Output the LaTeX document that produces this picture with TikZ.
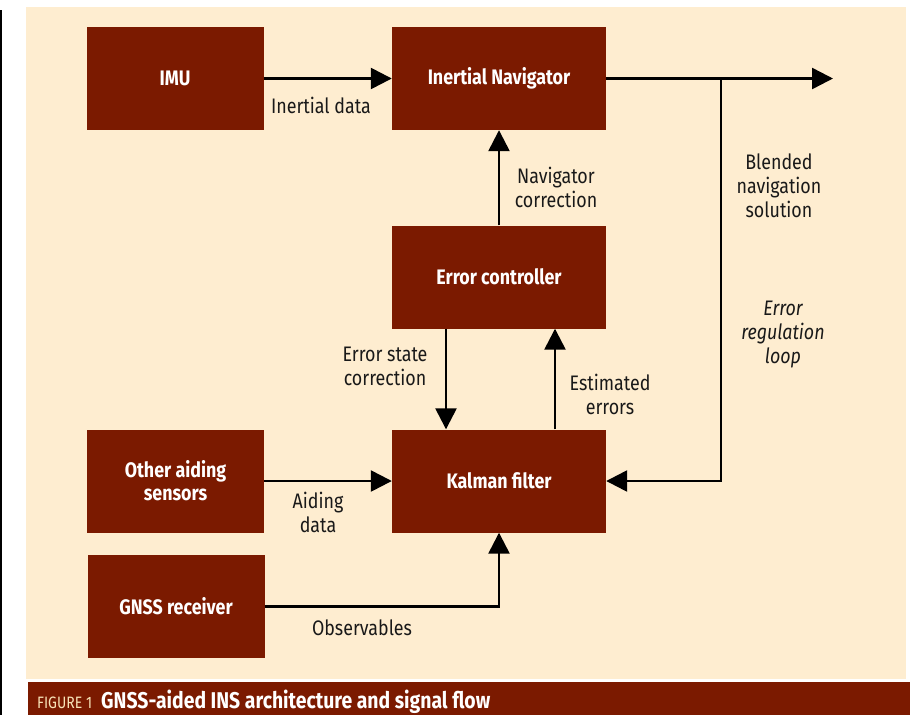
\documentclass[tikz,border=0pt]{standalone}
\usepackage{fontspec}
\setmainfont{Fira Sans}[FakeStretch=0.85]
\usetikzlibrary{arrows.meta}
\definecolor{boxred}{RGB}{123,26,0}
\definecolor{panel}{RGB}{254,237,208}
\definecolor{capcream}{RGB}{248,228,184}
\tikzset{
  block/.style={fill=boxred, text=white, font=\bfseries\fontsize{21}{23}\selectfont,
    minimum width=214pt, minimum height=103pt, inner sep=0pt, align=center},
  sideblock/.style={block, minimum width=177pt},
  lbl/.style={text=black!90, font=\fontsize{21}{24}\selectfont, align=center, inner sep=0pt},
  flow/.style={line width=2.5pt, -{Triangle[length=21pt,width=21pt]}}
}
\begin{document}
\begin{tikzpicture}[x=1pt,y=-1pt]
  \useasboundingbox (0,0) rectangle (910,715);
  % panel, rule and caption bar
  \fill[panel] (26,7) rectangle (906,679);
  \draw[line width=2pt] (1,10) -- (1,715);
  \fill[boxred] (28,682) rectangle (910,715);
  \node[anchor=base west, inner sep=0pt, text=capcream, font=\fontsize{16.5}{18}\selectfont] (figno) at (37,708) {FIGURE 1};
  \node[anchor=base west, inner sep=0pt, text=white, font=\bfseries\fontsize{22.8}{24}\selectfont] (captxt) at (101,708) {GNSS-aided INS architecture and signal flow};

  % blocks
  \node[sideblock] (imu) at (175,78.5) {IMU};
  \node[block] (nav) at (499,78.5) {Inertial Navigator};
  \node[block] (ctrl) at (499,277) {Error controller};
  \node[block] (kf) at (499,481) {Kalman filter};
  \node[sideblock] (aid) at (175.5,481) {Other aiding\\sensors};
  \node[sideblock] (gnss) at (176,606.5) {GNSS receiver};
  \coordinate (out) at (833,78.5);
  \coordinate (split) at (721,78.5);

  % signal flow
  \draw[flow] (imu) -- (nav);
  \draw[flow] (nav.east) -- (out);
  \draw[flow] (split) |- (kf.east);
  \draw[flow] (ctrl) -- (nav);
  \draw[flow] ([xshift=-53pt]ctrl.south) -- ([xshift=-53pt]kf.north);
  \draw[flow] ([xshift=56pt]kf.north) -- ([xshift=56pt]ctrl.south);
  \draw[flow] (aid) -- (kf);
  \draw[flow] (gnss.east) -| (kf.south);

  % labels
  \node[lbl] (l1) at (321,105) {Inertial data};
  \node[lbl] (l2) at (556,187) {Navigator\\correction};
  \node[lbl] (l3) at (779,186) {Blended\\navigation\\solution};
  \node[lbl, font=\itshape\fontsize{21}{24}\selectfont] (l4) at (783,335) {Error\\regulation\\loop};
  \node[lbl] (l5) at (385,366) {Error state\\correction};
  \node[lbl] (l6) at (610,394) {Estimated\\errors};
  \node[lbl] (l7) at (318,512) {Aiding\\data};
  \node[lbl] (l8) at (362,628) {Observables};
\end{tikzpicture}
\end{document}
